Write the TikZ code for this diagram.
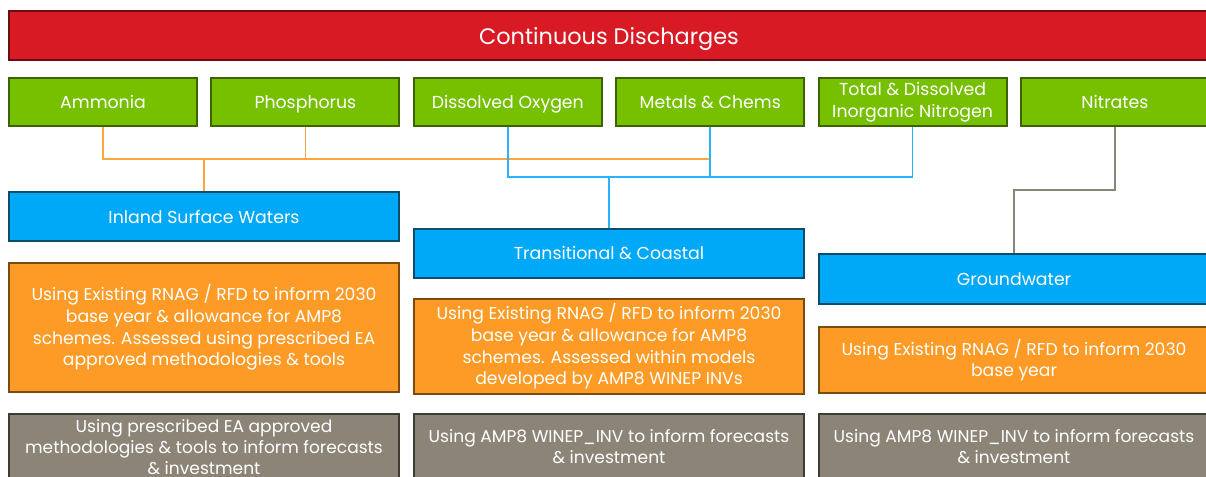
\documentclass[tikz,border=0pt]{standalone}
\usepackage{fontspec}
\setmainfont{Poppins}
\usetikzlibrary{positioning}

\definecolor{dischred}{HTML}{D71A24}
\definecolor{dischredline}{HTML}{6B0D12}
\definecolor{paramgreen}{HTML}{76C000}
\definecolor{paramgreenline}{HTML}{3D6300}
\definecolor{waterblue}{HTML}{00A8F8}
\definecolor{waterblueline}{HTML}{0B4C6A}
\definecolor{methodorange}{HTML}{FE9B27}
\definecolor{methodorangeline}{HTML}{7A4A10}
\definecolor{forecastgrey}{HTML}{8C8477}
\definecolor{forecastgreyline}{HTML}{3F3B35}

\begin{document}
\begin{tikzpicture}[
  x=0.75pt, y=0.75pt,
  box/.style={draw, line width=1.5pt, align=center, text=white, inner sep=2pt},
  banner/.style={box, fill=dischred, draw=dischredline, minimum width=900pt, minimum height=36.75pt, text depth=0pt, font=\fontsize{16.8}{19}\selectfont},
  param/.style={box, fill=paramgreen, draw=paramgreenline, minimum width=141pt, minimum height=36pt, text depth=0pt, font=\fontsize{13}{16.5}\selectfont},
  water/.style={box, fill=waterblue, draw=waterblueline, minimum width=292.5pt, minimum height=36.75pt, font=\fontsize{13}{15}\selectfont},
  method/.style={box, fill=methodorange, draw=methodorangeline, minimum width=292.5pt, font=\fontsize{12.9}{16.3}\selectfont},
  forecast/.style={box, fill=forecastgrey, draw=forecastgreyline, minimum width=292.5pt, minimum height=49.5pt, font=\fontsize{12.8}{15.75}\selectfont},
  oline/.style={draw=methodorange!90!white, line width=1.1pt},
  bline/.style={draw=waterblue!85!white, line width=1.1pt},
  gline/.style={draw=forecastgrey, line width=1.1pt}
]
\useasboundingbox (0,0) rectangle (1206,-477);

% top banner
\node[banner] (cd) at (609,-35.5) {Continuous Discharges};

% determinands
\node[param] (amm) at (103,-102) {Ammonia};
\node[param, right=9.3pt of amm] (phos) {Phosphorus};
\node[param, right=9.3pt of phos] (dox) {Dissolved Oxygen};
\node[param, right=9.3pt of dox] (metc) {Metals \& Chems};
\node[param, text depth=, right=9.3pt of metc] (tdin) {Total \& Dissolved\\Inorganic Nitrogen};
\node[param, right=9.3pt of tdin] (nit) {Nitrates};

% receiving waters
\node[water] (isw) at (204,-216.5) {Inland Surface Waters};
\node[water] (tc)  at (609,-253.5) {Transitional \& Coastal};
\node[water] (gw)  at (1014,-279) {Groundwater};

% base year methods
\node[method, minimum height=96.75pt] (isw-m) at (204,-327.5) {Using Existing RNAG / RFD to inform 2030\\base year \& allowance for AMP8\\schemes. Assessed using prescribed EA\\approved methodologies \& tools};
\node[method, minimum height=71.25pt] (tc-m) at (609,-346.5) {Using Existing RNAG / RFD to inform 2030\\base year \& allowance for AMP8\\schemes. Assessed within models\\developed by AMP8 WINEP INVs};
\node[method, minimum height=49.5pt] (gw-m) at (1014,-360) {Using Existing RNAG / RFD to inform 2030\\base year};

% forecasts
\node[forecast] (isw-f) at (204,-447) {Using prescribed EA approved\\methodologies \& tools to inform forecasts\\\& investment};
\node[forecast] (tc-f)  at (609,-447) {Using AMP8 WINEP\_INV to inform forecasts\\\& investment};
\node[forecast] (gw-f)  at (1014,-447) {Using AMP8 WINEP\_INV to inform forecasts\\\& investment};

% connectors
\coordinate (ojoin) at (204,-159);
\coordinate (bjoin) at (609,-177);
\coordinate (gbend) at (1014,-190);
\draw[oline] (amm.south) |- (ojoin) -| (isw.north);
\draw[oline] (phos.south) -- (phos.south |- ojoin);
\draw[oline] (metc.south) |- (ojoin);
\draw[bline] (dox.south) |- (bjoin) -| (tc.north);
\draw[bline] (tdin.south) |- (bjoin);
\draw[bline] (metc.south) -- (metc.south |- bjoin);
\draw[gline] (nit.south) |- (gbend) -- (gw.north);
\end{tikzpicture}
\end{document}
